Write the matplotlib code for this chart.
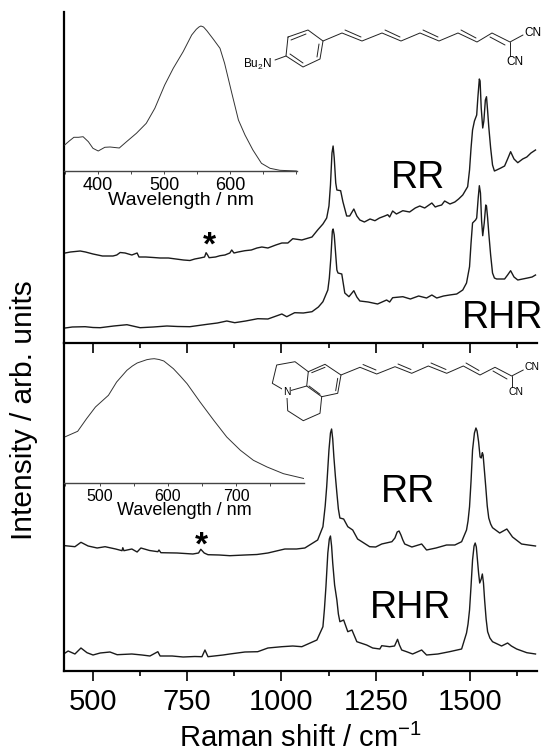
import matplotlib
matplotlib.use('Agg')
import matplotlib.pyplot as plt
from matplotlib.ticker import MultipleLocator

plt.rcParams['font.family'] = ['Liberation Sans', 'DejaVu Sans']
plt.rcParams['mathtext.fontset'] = 'custom'
plt.rcParams['mathtext.rm'] = 'Liberation Sans'
plt.rcParams['mathtext.default'] = 'regular'

# upper panel, RR
shift_a = [426, 440, 466, 480, 500, 525, 553, 563, 572, 585, 603, 617, 622, 640, 660, 678, 700, 720, 740, 757, 770, 784,
           796, 800, 804, 808, 825, 837, 850, 863, 868, 874, 885, 903, 920, 935, 948, 964, 985,
           1001, 1017, 1030, 1054, 1081, 1096, 1110, 1120, 1126, 1130, 1134, 1137, 1140, 1144, 1147, 1157, 1163, 1173, 1181, 1192,
           1200, 1208, 1220, 1235, 1248, 1260, 1274, 1282, 1287, 1295, 1305, 1322, 1340, 1355, 1367, 1380, 1399, 1408, 1415, 1425,
           1433, 1447, 1460, 1470, 1481, 1494, 1499, 1503, 1507, 1512, 1518, 1521, 1525, 1527, 1530,
           1534, 1537, 1541, 1544, 1547, 1550, 1555, 1560, 1565, 1571, 1582, 1592, 1600, 1608, 1617, 1627, 1640, 1651, 1662, 1674]
int_a = [90, 91, 92, 91, 89, 87, 87, 88, 90.5, 90, 88, 90, 86, 86, 85.5, 85, 85, 84, 83, 82.5, 84, 85,
         86, 90.3, 88, 85.3, 86, 87.3, 88, 90, 93, 90, 91, 92.3, 93, 95, 96, 95, 98,
         100, 100, 104.3, 103, 106, 113, 119, 125, 137, 158, 190, 197, 185, 160, 153, 152.3, 141.3, 127, 127, 134,
         127, 123, 121, 124, 122.3, 125, 127, 128.3, 126, 132, 129, 132.3, 131, 135, 137, 135, 140, 136, 137, 138,
         142, 139, 141, 144, 148, 156.3, 173, 195, 213, 222, 228, 245, 264, 262, 235,
         215, 222, 243, 246.3, 232, 216.3, 195, 178, 172, 173, 175, 177, 184, 191.3, 184, 180.3, 184, 186, 190, 193]

# upper panel, RHR
shift_b = [426, 445, 479, 500, 519, 555, 590, 625, 660, 696, 725, 757, 803, 830, 855, 876, 905, 937, 964, 1001, 1014, 1035, 1058, 1081, 1098, 1110,
           1123, 1127, 1131, 1135, 1137, 1140, 1144, 1147, 1150, 1160, 1168, 1179, 1192, 1200, 1208, 1230, 1255, 1279, 1287, 1295, 1322, 1342,
           1364, 1385, 1399, 1412, 1430, 1446, 1465, 1481, 1491, 1499, 1503, 1507, 1515, 1518, 1522, 1525, 1528, 1531, 1534, 1538,
           1542, 1544, 1547, 1550, 1555, 1560, 1565, 1571, 1592, 1600, 1608, 1617, 1627, 1653, 1665, 1674]
int_b = [15, 16, 16.3, 15.5, 15.3, 17, 18.3, 15.3, 16, 17, 16.5, 16.3, 18.7, 20, 22, 20.3, 22, 24.3, 24, 29, 26.3, 30.3, 30, 31.3, 36, 41.3,
         53, 65, 85, 112, 114, 108, 88, 73, 70, 69, 50, 46.3, 52.3, 46, 42, 41, 39, 43, 41, 45.3, 46.3, 44,
         47, 45, 48, 45, 47, 48, 49, 53, 60, 76.3, 100, 120, 123, 125, 145, 157.3, 150, 122, 107.3, 120,
         138, 137, 125, 110, 88, 70, 65, 64, 64, 68, 72.3, 66, 63, 65, 66, 68]

# lower panel, RR
shift_c = [426, 452, 468, 487, 511, 532, 560, 577, 579, 582, 603, 617, 627, 650, 672, 675, 680, 723, 765, 780, 786, 795, 805, 835, 863, 903,
           935, 964, 1009, 1040, 1062, 1096, 1110, 1116, 1120, 1126, 1130, 1133, 1136, 1139, 1143, 1147, 1151, 1155, 1165, 1176, 1189, 1202, 1234, 1250, 1266,
           1293, 1301, 1307, 1312, 1317, 1322, 1327, 1346, 1372, 1385, 1410, 1438, 1460, 1478, 1491, 1495, 1499, 1503, 1507, 1512, 1516, 1519, 1523, 1527, 1530, 1533,
           1535, 1539, 1542, 1546, 1550, 1555, 1560, 1579, 1598, 1613, 1637, 1655, 1674]
int_c = [125.3, 124.3, 128.7, 125, 123, 124.3, 122, 120.3, 123.3, 120.3, 122, 119, 123, 120.5, 119.3, 121, 118.3, 118, 117, 118, 121.7, 118, 116.3, 116, 115.3, 116,
         116.5, 118, 122, 122, 123, 131, 144.3, 165, 184.3, 221, 238, 242, 232, 214.3, 195, 178, 162, 153, 152, 144.3, 141, 132, 124.3, 124, 127,
         129.3, 133, 139, 140, 136, 131, 127, 124, 127, 121, 123, 126, 126, 129.3, 141, 150, 164.3, 190, 221, 238, 243, 240, 229.3, 214, 213, 218.3,
         216, 198, 184.3, 165, 153, 147, 143.3, 138, 142, 134, 127, 126, 125]

# lower panel, RHR
shift_d = [426, 434, 452, 468, 484, 500, 519, 545, 564, 603, 630, 651, 672, 678, 710, 739, 770, 789, 797, 805, 845, 863, 903, 937,
           964, 1001, 1030, 1054, 1094, 1110, 1114, 1118, 1123, 1127, 1130, 1133, 1136, 1141, 1147, 1151, 1155, 1165, 1176, 1187, 1200, 1226, 1242,
           1261, 1266, 1287, 1300, 1308, 1313, 1319, 1332, 1348, 1372, 1385, 1415, 1446, 1478, 1491, 1495, 1499, 1503, 1507, 1511, 1514, 1517, 1520, 1523, 1526,
           1530, 1533, 1536, 1539, 1543, 1547, 1553, 1560, 1584, 1600, 1610, 1624, 1651, 1674]
int_d = [18, 20, 17, 23, 18.3, 16, 18, 19, 16.3, 17, 16, 15, 19.3, 15, 15, 14, 14.5, 14.3, 21, 14.3, 16, 17, 19, 19.3,
         23, 24.3, 25, 24.3, 31, 44.3, 62, 84.3, 118, 132, 135, 125, 108, 86, 71, 57, 49.3, 51, 39.3, 41, 29.3, 26, 23,
         22, 25.3, 24.3, 25, 31.7, 26, 21, 19.3, 17, 21, 16, 17, 19.3, 22, 38, 47, 61, 85, 111, 125, 128, 124, 111, 98, 88,
         92, 97, 88, 71, 52, 39.3, 33, 29.3, 25, 28, 25, 22, 18.3, 17]

# absorption insets
wl_top = [349, 356, 363, 370, 377, 385, 392, 400, 410, 418, 432, 443, 458, 473, 486, 501, 514, 529, 542, 549, 553, 556, 560,
          565, 575, 585, 592, 603, 613, 623, 635, 648, 661, 676, 701]
abs_top = [26, 30, 33.7, 33.7, 34.3, 29.3, 22.7, 20, 23.7, 24, 23, 29.3, 37.7, 47.7, 62.7, 86, 102.7, 119.3, 136, 141.7, 144, 145, 144,
           140.3, 131.7, 122.7, 107.7, 77.7, 51, 36, 21, 7.7, 2.7, 0.7, 0]
wl_bot = [450, 468, 481, 494, 513, 525, 540, 548, 555, 569, 575, 580, 587, 594, 608, 618, 628, 647, 667, 686, 706, 725, 745, 769, 800]
abs_bot = [46.3, 51.7, 64.3, 76, 87.7, 101, 112.7, 117, 120, 123.3, 124, 124.3, 123.5, 122, 114.3, 107, 99.3, 81, 62.7, 46, 32.7, 22.7, 16, 9.3, 4.3]

W, H = 545, 754


def axes_px(fig, x0, y0, x1, y1):
    return fig.add_axes([x0 / W, 1 - y1 / H, (x1 - x0) / W, (y1 - y0) / H])


fig = plt.figure(figsize=(W / 100, H / 100), dpi=100)

ax1 = axes_px(fig, 64, 12, 537, 343)
ax2 = axes_px(fig, 64, 343, 537, 671)
for ax in (ax1, ax2):
    ax.set_xlim(423, 1678)
    ax.set_yticks([])
    ax.patch.set_alpha(0)
    for s in ax.spines.values():
        s.set_linewidth(1.6)
ax1.set_ylim(0, 331)
ax2.set_ylim(0, 328)

ax1.plot(shift_a, int_a, color='#1a1a1a', lw=1.0)
ax1.plot(shift_b, int_b, color='#1a1a1a', lw=1.0)
ax2.plot(shift_c, int_c, color='#1a1a1a', lw=1.0)
ax2.plot(shift_d, int_d, color='#1a1a1a', lw=1.0)

ax1.spines['top'].set_visible(False)
ax1.spines['right'].set_visible(False)
ax1.spines['bottom'].set_visible(False)
ax1.set_xticks([])
ax2.spines['right'].set_visible(False)
ax2.xaxis.set_major_locator(MultipleLocator(250))
ax2.xaxis.set_minor_locator(MultipleLocator(125))
ax2.tick_params(axis='x', which='major', top=True, length=7, width=1.2, labelsize=21, pad=5)
ax2.tick_params(axis='x', which='minor', top=True, length=3.5, width=1.2)
ax2.tick_params(axis='x', which='both', direction='out')
for t in ax2.xaxis.get_ticklines(minor=False)[1::2]:
    t.set_marker(3)
for t in ax2.xaxis.get_ticklines(minor=True)[1::2]:
    t.set_marker(3)
ax2.set_xlabel('Raman shift / cm$^{-1}$', fontsize=21, labelpad=6)
fig.text(24 / W, 1 - 410 / H, 'Intensity / arb. units', fontsize=21.5, rotation=90, ha='center', va='center')

# insets
ins1 = axes_px(fig, 64, 12, 297, 171)
ins1.set_xlim(348, 702)
ins1.set_ylim(0, 159)
ins1.plot(wl_top, abs_top, color='#333333', lw=0.7)
ins1.set_xticks([400, 500, 600])
ins1.xaxis.set_minor_locator(MultipleLocator(50))
ins1.tick_params(axis='x', which='both', length=2, width=0.7, color='#444444', labelsize=13, pad=2)
ins1.set_xlabel('Wavelength / nm', fontsize=14, labelpad=-1)

ins2 = axes_px(fig, 64, 350, 304, 483)
ins2.set_xlim(448, 799)
ins2.set_ylim(0, 133)
ins2.plot(wl_bot, abs_bot, color='#333333', lw=0.7)
ins2.set_xticks([500, 600, 700])
ins2.xaxis.set_minor_locator(MultipleLocator(50))
ins2.tick_params(axis='x', which='both', length=2, width=0.7, color='#444444', labelsize=11.5, pad=2)
ins2.set_xlabel('Wavelength / nm', fontsize=13, labelpad=-1)

for ins in (ins1, ins2):
    ins.patch.set_alpha(0)
    ins.set_yticks([])
    for k in ('top', 'left', 'right'):
        ins.spines[k].set_visible(False)
    ins.spines['bottom'].set_linewidth(1.0)
    ins.spines['bottom'].set_color('#444444')

# overlay in pixel coordinates for labels and the two structures
ov = fig.add_axes([0, 0, 1, 1])
ov.set_xlim(0, W)
ov.set_ylim(H, 0)
ov.axis('off')

ov.text(391, 188, 'RR', fontsize=27, ha='left', va='baseline')
ov.text(462, 328, 'RHR', fontsize=27, ha='left', va='baseline')
ov.text(381, 502, 'RR', fontsize=27, ha='left', va='baseline')
ov.text(370, 618, 'RHR', fontsize=27, ha='left', va='baseline')
ov.text(209, 255, '*', fontsize=24, fontweight='bold', ha='center', va='baseline')
ov.text(201, 555, '*', fontsize=24, fontweight='bold', ha='center', va='baseline')

ring1 = [(288, 37), (308, 30), (323, 41), (320, 59), (303, 67), (286, 56), (288, 37)]
inner1 = [[(291, 40), (306, 34)], [(319, 44), (317, 57)], [(303, 63), (290, 54)]]
chain1 = [(323, 41), (342, 33), (362, 41), (382, 33), (401, 41), (420, 33), (439, 41), (458, 33), (477, 42),
          (492, 33), (510, 42), (523, 35)]
doubles1 = [[(345, 30), (361, 37)], [(385, 30), (400, 37)], [(423, 30), (438, 37)], [(461, 30), (476, 38)],
            [(490, 37), (505, 45)]]
others1 = [[(286, 56), (275, 60)], [(510, 42), (510, 56)]]

ring2 = [(308.3, 371.7), (325, 364.3), (341, 375), (337.7, 393.3), (321.7, 396.7), (306.7, 386), (308.3, 371.7)]
inner2 = [[(311.7, 372.7), (325, 367.3)], [(337.7, 378.3), (335.7, 390.7)], [(320, 394.3), (309, 386)]]
sat2 = [(308.3, 371.7), (295, 361.7), (276.7, 365), (272.3, 383.3), (286.7, 391.7), (287.7, 410.7), (303.3, 420.7),
        (320, 413.3), (321.7, 396.7)]
chain2 = [(341, 375), (360, 367.3), (376.7, 374), (395, 366.7), (411.7, 373.3), (428.3, 366), (446.7, 373.3),
          (463.3, 366), (480, 375), (495, 367.3), (511.7, 376), (523.3, 370)]
doubles2 = [[(363, 364.5), (376, 370)], [(398, 364), (411, 369.5)], [(431, 363), (446, 369.5)], [(466, 363), (479, 370.5)],
            [(493, 371), (507, 379)]]
others2 = [[(286.7, 391.7), (306.7, 386)], [(511.7, 376), (511.7, 386.7)]]


def draw(points):
    ov.plot([p[0] for p in points], [p[1] for p in points], color='#222222', lw=0.7, solid_capstyle='round')


for path in [ring1, chain1, ring2, sat2, chain2] + inner1 + doubles1 + others1 + inner2 + doubles2 + others2:
    draw(path)

ov.set_xlim(0, W)
ov.set_ylim(H, 0)

ov.text(272, 64, 'Bu$_2$N', fontsize=8.5, ha='right', va='center')
ov.text(533, 33, 'CN', fontsize=8.5, ha='center', va='center')
ov.text(515, 62, 'CN', fontsize=8.5, ha='center', va='center')
ov.text(286.7, 392, 'N', fontsize=7.5, ha='center', va='center', bbox=dict(fc='white', ec='none', pad=0.5))
ov.text(532, 367, 'CN', fontsize=7.5, ha='center', va='center')
ov.text(516, 392, 'CN', fontsize=7.5, ha='center', va='center')

fig.savefig('out.png', dpi=100)
